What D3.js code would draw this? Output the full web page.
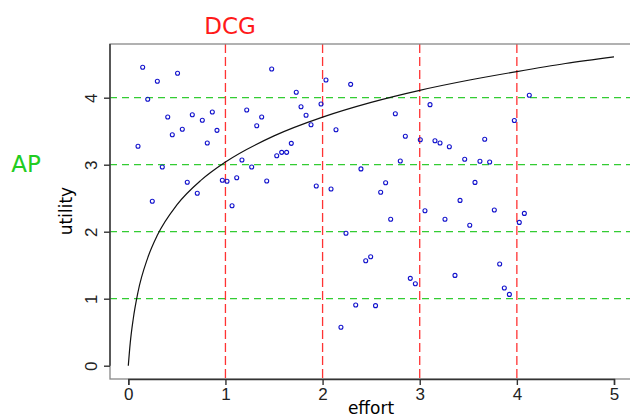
<!DOCTYPE html>
<meta charset="utf-8">
<style>
body { margin: 0; }
svg { font-family: "DejaVu Sans", sans-serif; background: #fff; }
.frame { fill: none; stroke: #888; stroke-width: 1.3; }
.axis path, .axis line { stroke: #333; stroke-width: 1.4; }
.axis text { font-size: 17px; fill: #222; }
.dots circle { fill: none; stroke: #1111cc; stroke-width: 1.1; }
</style>
<body>
<script src="https://cdn.jsdelivr.net/npm/d3@7"></script>
<script>

var xTicks = [0, 1, 2, 3, 4, 5],
    yTicks = [0, 1, 2, 3, 4];

var dcgCuts = [1, 2, 3, 4],
    apCuts = [1, 2, 3, 4];

// curve
var curveX = [0, 0.02, 0.05, 0.1, 0.2, 0.3, 0.5, 0.75, 1, 1.5, 2, 2.5, 3, 3.5, 4, 4.5, 5],
    curveY = [0, 0.34, 0.69, 1.1, 1.61, 1.95, 2.4, 2.77, 3.04, 3.43, 3.71, 3.93, 4.11, 4.26, 4.39, 4.51, 4.61];

var effort = [
  0.148, 0.507, 0.299, 0.200, 1.476, 0.406, 0.659, 0.865, 0.762, 1.219,
  1.373, 1.322, 0.556, 0.453, 0.913, 0.813, 0.100, 1.528, 1.170, 1.270,
  0.350, 0.968, 1.016, 1.116, 1.425, 0.607, 0.710, 0.247, 1.068,
  2.035, 2.289, 1.729, 1.778, 1.984, 1.830, 1.881, 2.138, 2.749, 3.106,
  1.678, 1.579, 1.630, 2.852, 3.006, 3.157, 3.209, 3.305, 2.800, 2.395,
  1.935, 2.087, 2.649, 2.598, 3.054, 2.701, 3.260,
  4.128, 3.974, 3.669, 3.463, 3.620, 3.720, 3.569, 3.415, 3.768, 4.077,
  2.241, 2.341, 2.189,
  3.515, 4.025, 2.444, 2.495, 3.823, 2.903, 2.955, 3.363, 3.871, 3.923, 2.545
];

var utility = [
  4.454, 4.364, 4.245, 3.976, 4.428, 3.712, 3.746, 3.787, 3.663, 3.816,
  3.712, 3.582, 3.528, 3.448, 3.513, 3.324, 3.275, 3.134, 3.070, 2.966,
  2.966, 2.767, 2.752, 2.806, 2.757, 2.737, 2.573, 2.454, 2.388,
  4.264, 4.199, 4.081, 3.866, 3.906, 3.737, 3.597, 3.522, 3.761, 3.896,
  3.319, 3.184, 3.184, 3.424, 3.373, 3.358, 3.324, 3.269, 3.055, 2.937,
  2.683, 2.638, 2.731, 2.588, 2.313, 2.185, 2.185,
  4.036, 3.660, 3.379, 3.081, 3.051, 3.040, 2.736, 2.467, 2.324, 2.273,
  1.976, 0.906, 0.573,
  2.096, 2.139, 1.567, 1.627, 1.518, 1.304, 1.224, 1.348, 1.160, 1.064, 0.896
];

var width = 630,
    height = 419,
    box = {left: 110, top: 44, right: 650, bottom: 379};

var x = d3.scaleLinear().domain([0, 5]).range([128.3, 614]);
var y = d3.scaleLinear().domain([0, 4]).range([365.7, 97.7]);

var svg = d3.select("body").append("svg")
    .attr("width", width)
    .attr("height", height);

// reference lines
svg.append("g").selectAll("line")
    .data(apCuts)
  .enter().append("line")
    .attr("x1", box.left)
    .attr("x2", box.right)
    .attr("y1", function(d) { return y(d); })
    .attr("y2", function(d) { return y(d); })
    .style("stroke", "#33cc33")
    .style("stroke-width", 1.3)
    .style("stroke-dasharray", "7,5");

svg.append("g").selectAll("line")
    .data(dcgCuts)
  .enter().append("line")
    .attr("x1", function(d) { return x(d); })
    .attr("x2", function(d) { return x(d); })
    .attr("y1", box.top)
    .attr("y2", box.bottom)
    .style("stroke", "#ff3333")
    .style("stroke-width", 1.3)
    .style("stroke-dasharray", "9,4");

// curve
var curve = curveX.map(function(d, i) { return [d, curveY[i]]; });

svg.append("path")
    .datum(curve)
    .attr("fill", "none")
    .attr("stroke", "#111")
    .attr("stroke-width", 1.2)
    .attr("d", d3.line()
        .x(function(d) { return x(d[0]); })
        .y(function(d) { return y(d[1]); })
        .curve(d3.curveMonotoneX));

// points
svg.append("g")
    .attr("class", "dots")
  .selectAll("circle")
    .data(effort)
  .enter().append("circle")
    .attr("cx", function(d) { return x(d); })
    .attr("cy", function(d, i) { return y(utility[i]); })
    .attr("r", 2);

svg.append("rect")
    .attr("class", "frame")
    .attr("x", box.left)
    .attr("y", box.top)
    .attr("width", box.right - box.left)
    .attr("height", box.bottom - box.top);

// axes
var xAxis = svg.append("g")
    .attr("class", "axis")
    .attr("transform", "translate(0," + box.bottom + ")")
    .call(d3.axisBottom(x).tickValues(xTicks).tickSize(6).tickPadding(3).tickFormat(d3.format("d")));

var yAxis = svg.append("g")
    .attr("class", "axis")
    .attr("transform", "translate(" + box.left + ",0)")
    .call(d3.axisLeft(y).tickValues(yTicks).tickSize(6).tickFormat(d3.format("d")));

yAxis.selectAll(".tick text")
    .attr("x", 0)
    .attr("dy", 0)
    .attr("text-anchor", "middle")
    .attr("transform", "translate(-13,0) rotate(-90)");

yAxis.select(".domain").attr("d", "M0," + box.top + "V" + y(0));

svg.append("text")
    .attr("x", 371)
    .attr("y", 414)
    .attr("text-anchor", "middle")
    .style("font-size", "17px")
    .text("effort");

svg.append("text")
    .attr("transform", "translate(72,211) rotate(-90)")
    .attr("text-anchor", "middle")
    .style("font-size", "17px")
    .text("utility");

svg.append("text")
    .attr("x", 230)
    .attr("y", 34)
    .attr("text-anchor", "middle")
    .style("font-size", "23px")
    .style("fill", "#ff1a1a")
    .text("DCG");

svg.append("text")
    .attr("x", 26)
    .attr("y", 172)
    .attr("text-anchor", "middle")
    .style("font-size", "23px")
    .style("fill", "#22cc22")
    .text("AP");

</script>
